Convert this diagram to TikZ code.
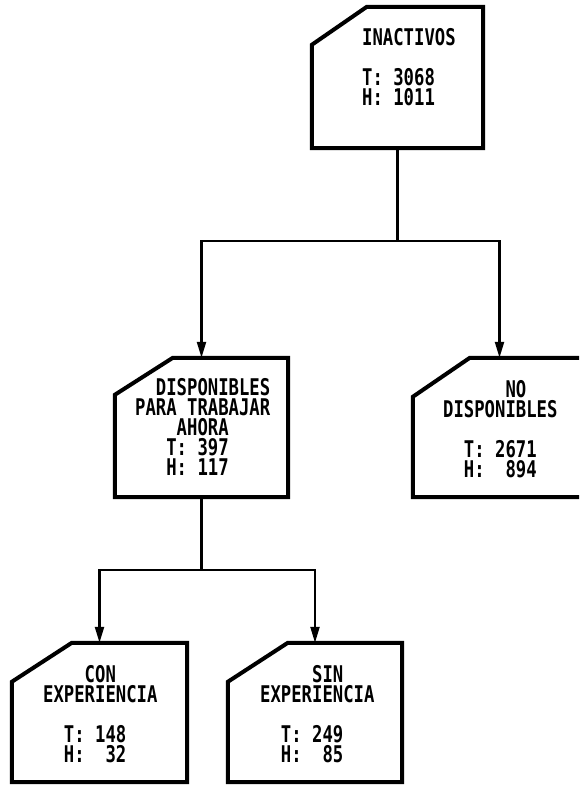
\documentclass[tikz,border=0pt]{standalone}
\usepackage{fontspec}
\newfontfamily\plotfont[FakeStretch=0.75]{DejaVu Sans Mono}
\usetikzlibrary{arrows.meta,calc}
\tikzset{
  frame/.style={shape=rectangle,draw=none,inner sep=0pt},
  outline/.style={line width=4pt,line join=miter},
  conn/.style={line width=2.2pt},
  arr/.style={conn,-{Triangle[length=16pt,width=9pt]}},
  txt/.style={anchor=north west,inner sep=0pt,align=left,
    font=\plotfont\bfseries\fontsize{23}{20}\selectfont}
}
\newcommand{\sq}[1]{\hphantom{#1}}
\begin{document}
\begin{tikzpicture}[x=1pt,y=-1pt]
\useasboundingbox (0,0) rectangle (579,785);
\clip (0,0) rectangle (579,785);
% boxes
\node[frame,minimum width=171pt,minimum height=141pt] (top) at (397.5,77.5) {};
\node[frame,minimum width=173pt,minimum height=139pt] (midL) at (201.5,427.5) {};
\node[frame,minimum width=173pt,minimum height=139pt] (midR) at (499.5,427.5) {};
\node[frame,minimum width=175pt,minimum height=139pt] (botL) at (99.5,712.5) {};
\node[frame,minimum width=174pt,minimum height=139pt] (botR) at (315,712.5) {};
\draw[outline] ($(top.north west)+(0,38)$) -- ($(top.north west)+(55,0)$) -- (top.north east) -- (top.south east) -- (top.south west) -- cycle;
\draw[outline] ($(midL.north west)+(0,37)$) -- ($(midL.north west)+(58,0)$) -- (midL.north east) -- (midL.south east) -- (midL.south west) -- cycle;
\draw[outline] ($(midR.north west)+(0,39)$) -- ($(midR.north west)+(57,0)$) -- (midR.north east) -- (midR.south east) -- (midR.south west) -- cycle;
\draw[outline] ($(botL.north west)+(0,39)$) -- ($(botL.north west)+(60,0)$) -- (botL.north east) -- (botL.south east) -- (botL.south west) -- cycle;
\draw[outline] ($(botR.north west)+(0,39)$) -- ($(botR.north west)+(60,0)$) -- (botR.north east) -- (botR.south east) -- (botR.south west) -- cycle;
% texts
\node[txt] (topT) at (362,28) {INACTIVOS\\[20pt]T:\sq{X}3068\\H:\sq{X}1011};
\node[txt] (midLT) at (135,378) {\sq{XX}DISPONIBLES\\PARA\sq{X}TRABAJAR\\\sq{XXXX}AHORA\\\sq{XXX}T:\sq{X}397\\\sq{XXX}H:\sq{X}117};
\node[txt] (midRT) at (443,380) {\sq{XXXXXX}NO\\DISPONIBLES\\[20pt]\sq{XX}T:\sq{X}2671\\\sq{XX}H:\sq{XX}894};
\node[txt] (botLT) at (43,665) {\sq{XXXX}CON\\EXPERIENCIA\\[20pt]\sq{XX}T:\sq{X}148\\\sq{XX}H:\sq{XX}32};
\node[txt] (botRT) at (260,665) {\sq{XXXXX}SIN\\EXPERIENCIA\\[20pt]\sq{XX}T:\sq{X}249\\\sq{XX}H:\sq{XX}85};
% connectors
\coordinate (j1) at (397.5,241);
\coordinate (j2) at (201.5,570);
\draw[conn] (top.south) -- (j1);
\draw[arr] (j1) -| (midL.north);
\draw[arr] (j1) -| (midR.north);
\draw[conn] (midL.south) -- (j2);
\draw[arr] (j2) -| (botL.north);
\draw[arr] (j2) -| (botR.north);
\end{tikzpicture}
\end{document}
